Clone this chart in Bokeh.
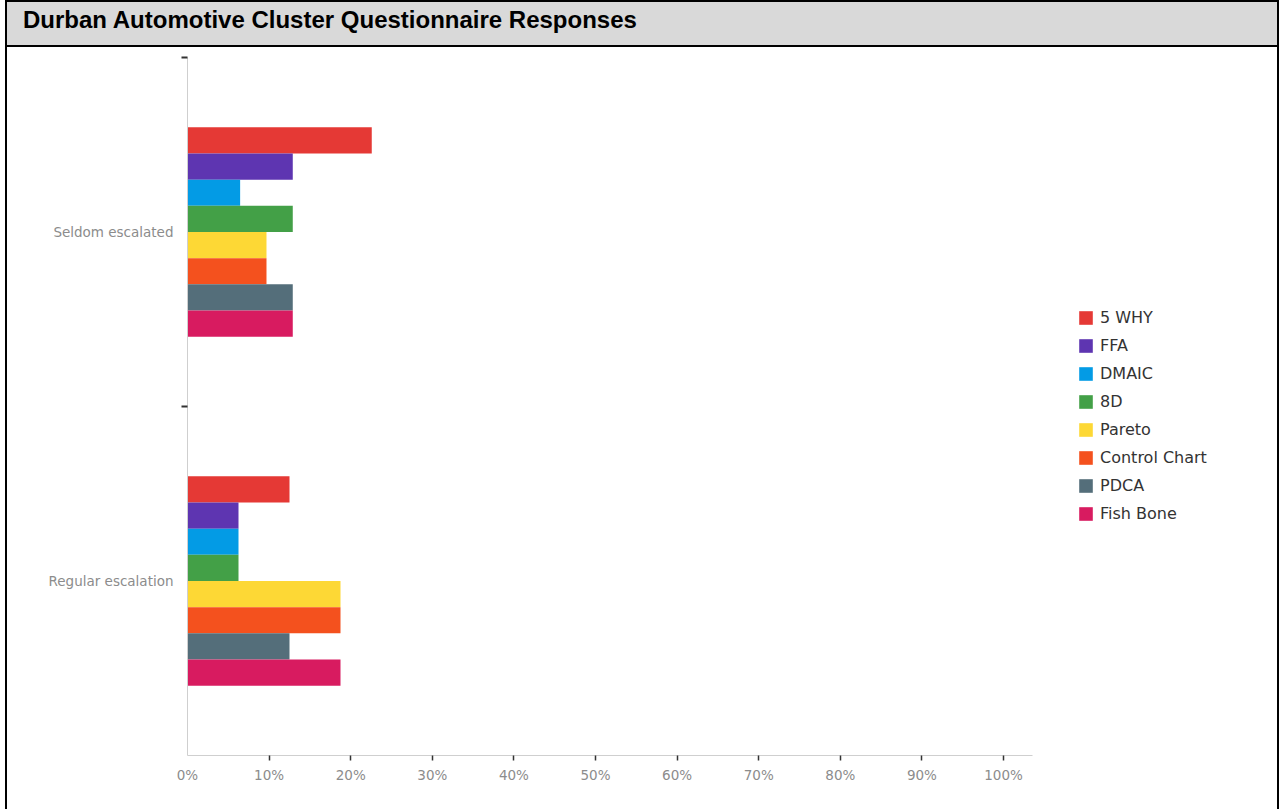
from bokeh.plotting import figure
from bokeh.models import Range1d, FixedTicker, Legend, LegendItem, Div
from bokeh.layouts import column
from bokeh.embed import file_html
from bokeh.resources import INLINE

# --- data -------------------------------------------------------------
title_text = "Durban Automotive Cluster Questionnaire Responses"
categories = ["Regular escalation", "Seldom escalated"]          # bottom -> top
methods = ["5 WHY", "FFA", "DMAIC", "8D", "Pareto", "Control Chart", "PDCA", "Fish Bone"]
colors = ["#e53935", "#5e35b1", "#039be5", "#43a047",
          "#fdd835", "#f4511e", "#546e7a", "#d81b60"]
# share of respondents (%) per method
seldom_escalated = [22.58, 12.90, 6.45, 12.90, 9.68, 9.68, 12.90, 12.90]
regular_escalation = [12.50, 6.25, 6.25, 6.25, 18.75, 18.75, 12.50, 18.75]
x_ticks = [0, 10, 20, 30, 40, 50, 60, 70, 80, 90, 100]

values_by_category = {"Regular escalation": regular_escalation,
                      "Seldom escalated": seldom_escalated}

FONT = "DejaVu Sans"

# --- geometry ---------------------------------------------------------
FIG_W, FIG_H = 1270, 762
FRAME_LEFT, BORDER_RIGHT = 180, 5
AXIS_PX = 845                      # drawn length of the value axis
AXIS_MAX = 103.55                  # value at the end of the axis line
frame_w = FIG_W - FRAME_LEFT - BORDER_RIGHT
x_end = AXIS_MAX * frame_w / AXIS_PX   # frame runs on past the axis to hold the legend

p = figure(width=FIG_W, height=FIG_H, output_backend="svg", toolbar_location=None,
           x_range=Range1d(0, x_end), y_range=Range1d(0, len(categories)),
           min_border_left=FRAME_LEFT, min_border_right=BORDER_RIGHT,
           min_border_top=10, min_border_bottom=54, margin=0)
p.outline_line_color = None
p.xgrid.grid_line_color = None
p.ygrid.grid_line_color = None
p.background_fill_color = "white"
p.border_fill_color = "white"

group_height = 0.6
bar_h = group_height / len(methods)

renderers = []
for i, (m, c) in enumerate(zip(methods, colors)):
    offset = group_height / 2 - bar_h * (i + 0.5)
    ys = [k + 0.5 + offset for k in range(len(categories))]
    xs = [values_by_category[cat][i] for cat in categories]
    r = p.hbar(y=ys, right=xs, left=0, height=bar_h, color=c, line_color=None)
    renderers.append(r)

# x axis
xa = p.xaxis[0]
xa.bounds = (0, AXIS_MAX)
xa.ticker = FixedTicker(ticks=x_ticks, minor_ticks=x_ticks[1:])
xa.major_label_overrides = {t: f"{t}%" for t in x_ticks}
xa.major_tick_line_color = None
xa.major_tick_out = 0
xa.major_tick_in = 0
xa.minor_tick_line_color = "#333333"
xa.minor_tick_line_width = 1.5
xa.minor_tick_out = 5
xa.minor_tick_in = 0
xa.axis_line_color = "#cfcfcf"
xa.major_label_text_font = FONT
xa.major_label_text_font_size = "13.5px"
xa.major_label_text_color = "#8c8c8c"
xa.major_label_standoff = 6

# y axis: labels at category centres, ticks at category boundaries
ya = p.yaxis[0]
ya.ticker = FixedTicker(ticks=[k + 0.5 for k in range(len(categories))],
                        minor_ticks=[k for k in range(1, len(categories) + 1)])
ya.major_label_overrides = {k + 0.5: cat for k, cat in enumerate(categories)}
ya.major_tick_line_color = None
ya.major_tick_out = 0
ya.major_tick_in = 0
ya.minor_tick_line_color = "#333333"
ya.minor_tick_line_width = 2
ya.minor_tick_out = 6
ya.minor_tick_in = 0
ya.axis_line_color = "#cfcfcf"
ya.major_label_text_font = FONT
ya.major_label_text_font_size = "13.5px"
ya.major_label_text_color = "#8c8c8c"
ya.major_label_standoff = 8

legend = Legend(items=[LegendItem(label=m, renderers=[r]) for m, r in zip(methods, renderers)],
                location=(890, 232), orientation="vertical",
                glyph_width=17, glyph_height=17, label_height=19, label_standoff=6,
                spacing=9, padding=0, margin=0,
                border_line_color=None, background_fill_alpha=0,
                label_text_font=FONT, label_text_font_size="16px",
                label_text_color="#333333")
p.add_layout(legend, "center")

header = Div(text=title_text, width=FIG_W, height=45, margin=0,
             styles={"background-color": "#d9d9d9",
                     "border-bottom": "2px solid #000000",
                     "box-sizing": "border-box",
                     "font-family": "'Liberation Sans', Arial, sans-serif",
                     "font-weight": "bold",
                     "font-size": "24px",
                     "color": "#000000",
                     "padding-left": "16px",
                     "line-height": "36px"})

layout = column(header, p, spacing=0, margin=(0, 0, 0, 5),
                styles={"border": "2px solid #000000"})

page_style = "{% block preamble %}<style>html, body { margin: 0; padding: 0; overflow: hidden; }</style>{% endblock %}"

with open("out.html", "w") as f:
    f.write(file_html(layout, INLINE, template=page_style))
